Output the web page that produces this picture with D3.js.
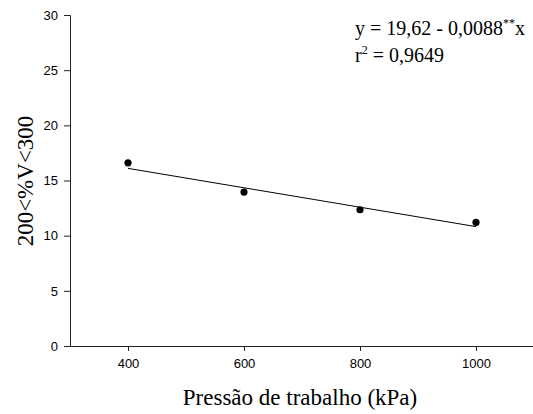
<!DOCTYPE html>
<html>
<head>
<meta charset="utf-8">
<script src="https://cdn.jsdelivr.net/npm/d3@7"></script>
<style>
  body { margin: 0; background: #fff; }
  .tick text { font-family: "Liberation Sans", Arial, sans-serif; font-size: 13px; fill: #000; }
  .domain, .tick line { stroke: #222; }
  .serif { font-family: "Liberation Serif", "Times New Roman", serif; fill: #000; }
</style>
</head>
<body>
<div id="content"></div>
<script>
// measured points
const pressure = [400, 600, 800, 1000];
const pct = [16.6, 13.95, 12.35, 11.2];
// regression y = a + b x
const fitCoef = [19.62, -0.0088];
const xTicks = [400, 600, 800, 1000];
const yTicks = [0, 5, 10, 15, 20, 25, 30];

const W = 533, H = 414;

const svg = d3.select("#content").append("svg")
    .attr("width", W)
    .attr("height", H);

const x = d3.scaleLinear().domain([300, 1100]).range([70, 534]);
const y = d3.scaleLinear().domain([0, 30]).range([346, 15]);

svg.append("g")
    .attr("transform", "translate(0,346)")
    .call(d3.axisBottom(x).tickValues(xTicks).tickSize(5).tickSizeOuter(0).tickPadding(8))
    .call(g => g.selectAll(".tick text").text(d => d));

svg.append("g")
    .attr("transform", "translate(70,0)")
    .call(d3.axisLeft(y).tickValues(yTicks).tickSize(6).tickPadding(6));

// fitted line over the measured range
const fitX = d3.extent(pressure);
svg.append("line")
    .attr("x1", x(fitX[0]))
    .attr("y1", y(fitCoef[0] + fitCoef[1] * fitX[0]))
    .attr("x2", x(fitX[1]))
    .attr("y2", y(fitCoef[0] + fitCoef[1] * fitX[1]))
    .style("stroke", "#000")
    .style("stroke-width", 1);

svg.selectAll("circle")
    .data(pressure.map((p, i) => [p, pct[i]]))
    .enter().append("circle")
    .attr("cx", d => x(d[0]))
    .attr("cy", d => y(d[1]))
    .attr("r", 3.6)
    .style("fill", "#000");

// axis titles
svg.append("text")
    .attr("class", "serif")
    .attr("x", 300)
    .attr("y", 405)
    .attr("text-anchor", "middle")
    .style("font-size", "23px")
    .text("Pressão de trabalho (kPa)");

svg.append("text")
    .attr("class", "serif")
    .attr("transform", "translate(33,181) rotate(-90)")
    .attr("text-anchor", "middle")
    .style("font-size", "23px")
    .text("200<%V<300");

// equation
const eq = svg.append("text")
    .attr("class", "serif")
    .attr("x", 355)
    .attr("y", 35)
    .style("font-size", "20px");
eq.append("tspan").text("y = 19,62 - 0,0088");
eq.append("tspan").attr("dy", -8).style("font-size", "12px").text("**");
eq.append("tspan").attr("dy", 8).text("x");

const r2 = svg.append("text")
    .attr("class", "serif")
    .attr("x", 355)
    .attr("y", 61.5)
    .style("font-size", "20px");
r2.append("tspan").text("r");
r2.append("tspan").attr("dy", -8).style("font-size", "12px").text("2");
r2.append("tspan").attr("dy", 8).text(" = 0,9649");
</script>
</body>
</html>
